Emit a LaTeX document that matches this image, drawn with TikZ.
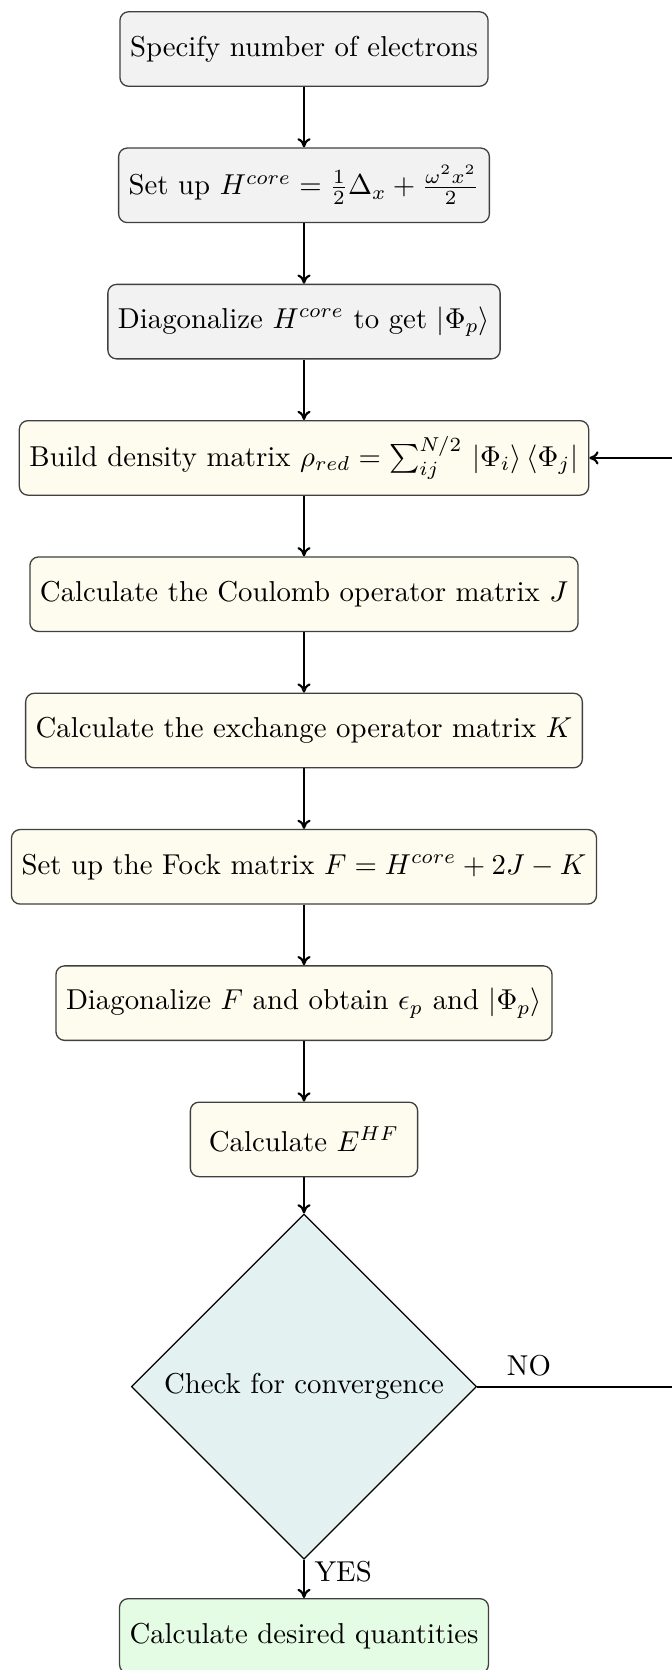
\documentclass[tikz,border=0pt]{standalone}
\usetikzlibrary{shapes.geometric,arrows.meta}

\definecolor{prepfill}{HTML}{F2F2F2}
\definecolor{loopfill}{HTML}{FEFCEE}
\definecolor{testfill}{HTML}{E4F1F1}
\definecolor{donefill}{HTML}{E4FCE4}

\tikzset{
  stepbox/.style={draw=black!75, line width=0.45pt, rounded corners=3pt,
    minimum height=25.9pt, minimum width=79pt, inner xsep=3.5pt, align=center},
  prep/.style={stepbox, fill=prepfill},
  iter/.style={stepbox, fill=loopfill},
  done/.style={stepbox, fill=donefill},
  test/.style={diamond, draw=black, line width=0.4pt, fill=testfill,
    aspect=1, minimum width=120pt, minimum height=120pt, inner sep=0pt},
  flow/.style={-{To[length=3.2pt,width=4.6pt]}, line width=0.75pt}
}

\begin{document}
\begin{tikzpicture}[x={(0.3476pt,0)}, y={(0,-0.3476pt)}]
  \clip (0,0) rectangle (672,1670);

  \node[prep] (b1) at (304,49)     {Specify number of electrons};
  \node[prep] (b2) at (304,185.3)  {Set up $H^{core} = \frac{1}{2}\Delta_x + \frac{\omega^2 x^2}{2}$};
  \node[prep] (b3) at (304,321.6)  {Diagonalize $H^{core}$ to get $|\Phi_p\rangle$};
  \node[iter] (b4) at (304,457.9)  {Build density matrix $\rho_{red} = \sum_{ij}^{N/2}\,|\Phi_i\rangle\,\langle\Phi_j|$};
  \node[iter] (b5) at (304,594.2)  {Calculate the Coulomb operator matrix $J$};
  \node[iter] (b6) at (304,730.5)  {Calculate the exchange operator matrix $K$};
  \node[iter] (b7) at (304,866.8)  {Set up the Fock matrix $F = H^{core} + 2J - K$};
  \node[iter] (b8) at (304,1003.1) {Diagonalize $F$ and obtain $\epsilon_p$ and $|\Phi_p\rangle$};
  \node[iter] (b9) at (304,1139.4) {Calculate $E^{HF}$};
  \node[test] (chk) at (304,1386.6) {\raisebox{-0.8pt}{Check for convergence}};
  \node[done] (b10) at (304,1635.9) {Calculate desired quantities};

  \coordinate (back) at (720,1386.6);

  \draw[flow] (b1) -- (b2);
  \draw[flow] (b2) -- (b3);
  \draw[flow] (b3) -- (b4);
  \draw[flow] (b4) -- (b5);
  \draw[flow] (b5) -- (b6);
  \draw[flow] (b6) -- (b7);
  \draw[flow] (b7) -- (b8);
  \draw[flow] (b8) -- (b9);
  \draw[flow] (b9) -- (chk);
  \draw[flow] (chk) -- node[right, pos=0.3] {YES} (b10);
  \draw[flow] (chk.east) -- node[above, pos=0.213] {NO} (back) |- (b4.east);
\end{tikzpicture}
\end{document}
